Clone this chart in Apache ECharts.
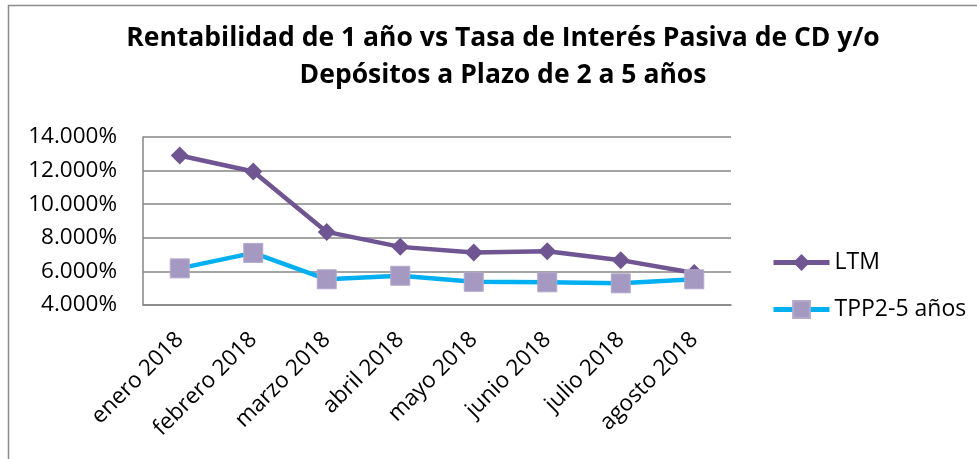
<!DOCTYPE html>
<html>
<head>
<meta charset="utf-8">
<script src="https://cdn.jsdelivr.net/npm/echarts@6/dist/echarts.min.js"></script>
<style>
  html, body { margin: 0; padding: 0; background: #fff; }
  #chart { width: 977px; height: 459px; }
</style>
</head>
<body>
<div id="chart"></div>
<script>
const categories = ['enero 2018', 'febrero 2018', 'marzo 2018', 'abril 2018',
  'mayo 2018', 'junio 2018', 'julio 2018', 'agosto 2018'];
const ltm = [12.9, 11.95, 8.35, 7.46, 7.13, 7.2, 6.67, 5.9];
const tpp = [6.18, 7.1, 5.53, 5.74, 5.38, 5.35, 5.29, 5.53];
const yTicks = { min: 4, max: 14, interval: 2 };
const titleLines = ['Rentabilidad de 1 año vs Tasa de Interés Pasiva de CD y/o',
  'Depósitos a Plazo de 2 a 5 años'];

const font = '"Open Sans", "Noto Sans", sans-serif';
const chart = echarts.init(document.getElementById('chart'));

chart.setOption({
  animation: false,
  textStyle: { fontFamily: font, color: '#000' },
  graphic: [
    {
      type: 'rect',
      shape: { x: 8.5, y: 5.5, width: 1200, height: 1200 },
      style: { fill: 'none', stroke: '#8c8c8c', lineWidth: 1.5 },
      silent: true
    },
    {
      type: 'text',
      x: 503, y: 38,
      style: {
        text: titleLines[0], fontFamily: font, fontWeight: 'bold', fontSize: 26.5,
        fill: '#000', align: 'center', verticalAlign: 'middle'
      }
    },
    {
      type: 'text',
      x: 503, y: 75,
      style: {
        text: titleLines[1], fontFamily: font, fontWeight: 'bold', fontSize: 26.5,
        fill: '#000', align: 'center', verticalAlign: 'middle'
      }
    }
  ],
  grid: { left: 143, right: 246, top: 137, bottom: 154 },
  legend: {
    orient: 'vertical',
    left: 766,
    top: 246,
    itemWidth: 56,
    itemHeight: 21,
    itemGap: 24,
    lineStyle: { width: 5 },
    textStyle: { fontFamily: font, fontSize: 23, color: '#000' },
    data: ['LTM', 'TPP2-5 años']
  },
  xAxis: {
    type: 'category',
    data: categories,
    boundaryGap: true,
    axisLine: { lineStyle: { color: '#868686', width: 1.5 } },
    axisTick: { show: false },
    axisLabel: { interval: 0, rotate: 45, margin: 31, fontSize: 22.5, color: '#000', fontFamily: font }
  },
  yAxis: {
    type: 'value',
    min: yTicks.min,
    max: yTicks.max,
    interval: yTicks.interval,
    axisLine: { show: true, lineStyle: { color: '#868686', width: 1.5 } },
    axisTick: { show: false },
    splitLine: { lineStyle: { color: '#868686', width: 1.5 } },
    axisLabel: {
      margin: 26, fontSize: 22.5, color: '#000', fontFamily: font,
      formatter: (v) => v.toFixed(3) + '%'
    }
  },
  series: [
    {
      name: 'LTM',
      type: 'line',
      data: ltm,
      symbol: 'diamond',
      symbolSize: 18,
      lineStyle: { color: '#6f5592', width: 4.5 },
      itemStyle: { color: '#6f5592' },
      z: 2
    },
    {
      name: 'TPP2-5 años',
      type: 'line',
      data: tpp,
      symbol: 'rect',
      symbolSize: 19,
      lineStyle: { color: '#00b0f0', width: 4.5 },
      itemStyle: { color: '#a599c1', borderColor: '#b4a9cc', borderWidth: 1 },
      z: 3
    }
  ]
});
</script>
</body>
</html>
